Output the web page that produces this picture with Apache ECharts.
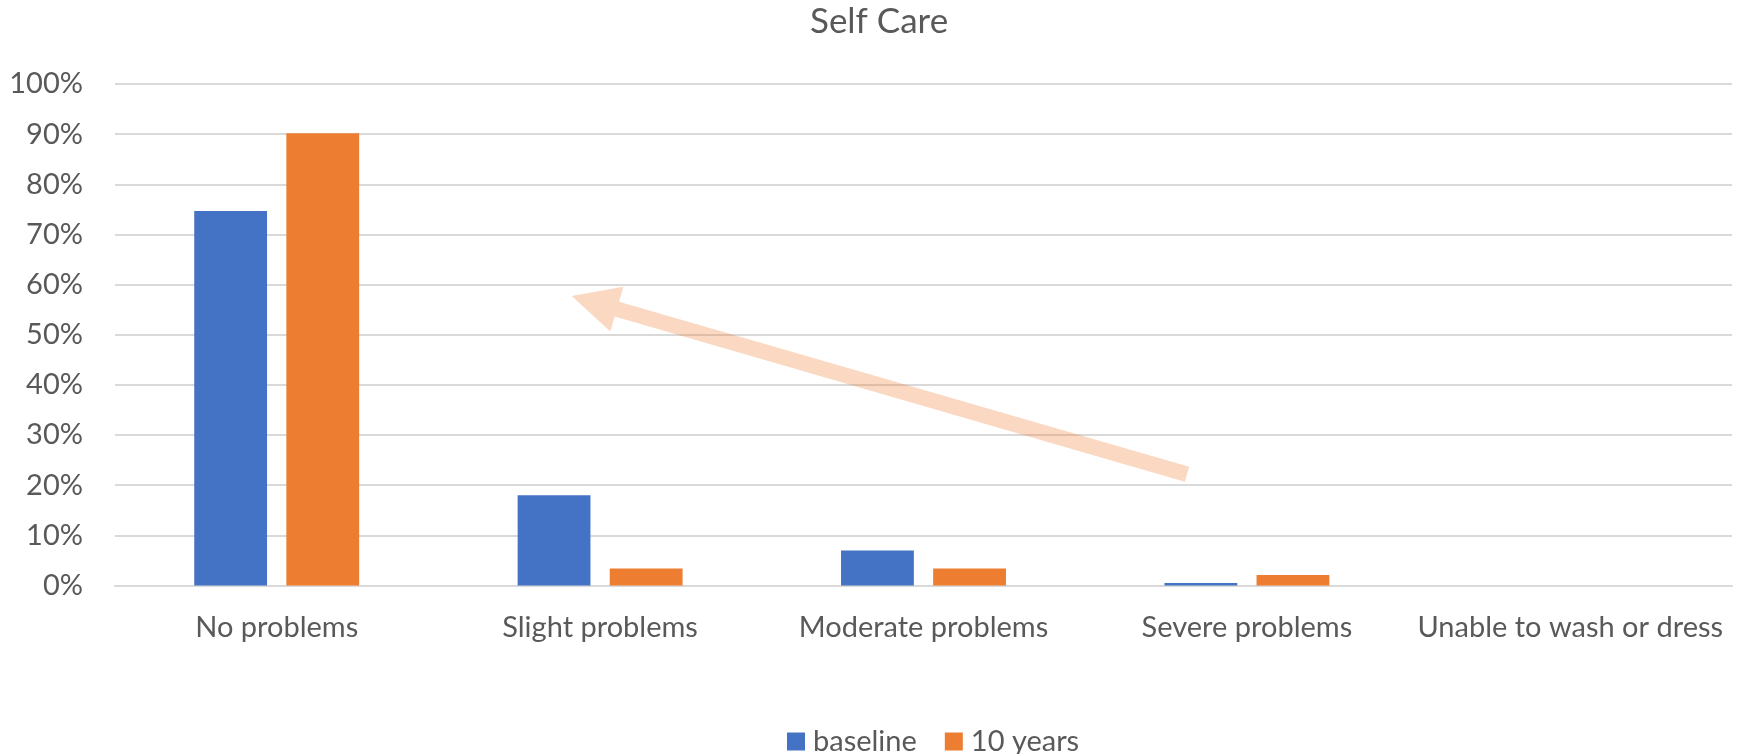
<!DOCTYPE html>
<html>
<head>
<meta charset="utf-8">
<script src="https://cdn.jsdelivr.net/npm/echarts@6/dist/echarts.min.js"></script>
<style>
  html, body { margin: 0; padding: 0; background: #fff; }
  #main { width: 1737px; height: 754px; }
</style>
</head>
<body>
<div id="main"></div>
<script>
var categories = ['No problems', 'Slight problems', 'Moderate problems', 'Severe problems', 'Unable to wash or dress'];
var baseline = [74.7, 18.0, 7.0, 0.5, 0];
var tenYears = [90.2, 3.4, 3.4, 2.1, 0];
var yTicks = [0, 10, 20, 30, 40, 50, 60, 70, 80, 90, 100];

var FONT = 'Lato, "Open Sans", sans-serif';
var GREY = '#595959';

// block arrow drawn over the plot (tip, tail in px)
function arrowPoints(tip, tail, shaftW, headW, headL) {
    var dx = tip[0] - tail[0], dy = tip[1] - tail[1];
    var len = Math.sqrt(dx * dx + dy * dy);
    var ux = dx / len, uy = dy / len;
    var nx = -uy, ny = ux;
    var bx = tip[0] - ux * headL, by = tip[1] - uy * headL;
    return [
        [tail[0] + nx * shaftW / 2, tail[1] + ny * shaftW / 2],
        [bx + nx * shaftW / 2, by + ny * shaftW / 2],
        [bx + nx * headW / 2, by + ny * headW / 2],
        tip,
        [bx - nx * headW / 2, by - ny * headW / 2],
        [bx - nx * shaftW / 2, by - ny * shaftW / 2],
        [tail[0] - nx * shaftW / 2, tail[1] - ny * shaftW / 2]
    ];
}

var option = {
    animation: false,
    color: ['#4472C4', '#ED7D31'],
    title: {
        text: 'Self Care',
        left: 810,
        top: 4,
        padding: 0,
        textStyle: { fontFamily: FONT, fontSize: 35, fontWeight: 'normal', color: GREY }
    },
    legend: {
        left: 782,
        top: 722,
        itemWidth: 18,
        itemHeight: 18,
        itemGap: 28,
        icon: 'rect',
        textStyle: { fontFamily: FONT, fontSize: 29, color: GREY, padding: [0, 0, 0, 3] }
    },
    grid: { left: 115, right: 5, top: 84, bottom: 168.5, containLabel: false },
    xAxis: {
        type: 'category',
        data: categories,
        axisLine: { show: true, lineStyle: { color: '#d9d9d9', width: 2 } },
        axisTick: { show: false },
        axisLabel: { interval: 0, fontFamily: FONT, fontSize: 29, color: GREY, margin: 28 }
    },
    yAxis: {
        type: 'value',
        min: yTicks[0],
        max: yTicks[yTicks.length - 1],
        interval: 10,
        axisLine: { show: false },
        axisTick: { show: false },
        splitLine: { lineStyle: { color: '#d9d9d9', width: 2 } },
        axisLabel: { fontFamily: FONT, fontSize: 29, color: GREY, margin: 32, formatter: '{value}%' }
    },
    series: [
        { name: 'baseline', type: 'bar', data: baseline, barGap: '26.5%', barCategoryGap: '49%' },
        { name: '10 years', type: 'bar', data: tenYears, barGap: '26.5%', barCategoryGap: '49%' }
    ],
    graphic: [{
        type: 'polygon',
        z: 100,
        shape: { points: arrowPoints([571.7, 296], [1187, 474.2], 15.5, 46.7, 47) },
        style: { fill: 'rgba(237,125,49,0.3)' }
    }]
};

var chart = echarts.init(document.getElementById('main'));
chart.setOption(option);
</script>
</body>
</html>
